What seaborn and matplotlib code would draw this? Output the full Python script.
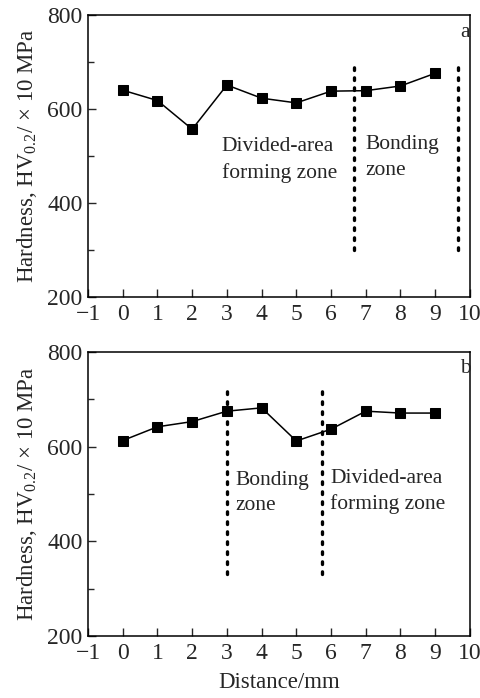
import numpy as np
import seaborn as sns
import matplotlib.pyplot as plt
import pandas as pd

# hardness profiles
distance = [0, 1, 2, 3, 4, 5, 6, 7, 8, 9]
hardness_a = [640, 618, 557, 651, 623, 613, 638, 639, 649, 676]
hardness_b = [613, 642, 653, 675, 682, 612, 637, 675, 671, 671]

# zone boundaries (dotted lines)
bounds_a = [6.65, 9.67]
bounds_b = [3.0, 5.73]

sns.set_style('ticks')
plt.rcParams['font.family'] = ['Liberation Serif', 'DejaVu Serif']
plt.rcParams['mathtext.fontset'] = 'custom'
plt.rcParams['mathtext.rm'] = 'Liberation Serif'
plt.rcParams['mathtext.it'] = 'Liberation Serif:italic'
plt.rcParams['axes.unicode_minus'] = True

fig = plt.figure(figsize=(4.81, 6.98), dpi=100)
ax1 = fig.add_axes([0.183, 0.5745, 0.794, 0.404])
ax2 = fig.add_axes([0.183, 0.0888, 0.794, 0.4069])

df_a = pd.DataFrame({'Distance': distance, 'Hardness': hardness_a})
df_b = pd.DataFrame({'Distance': distance, 'Hardness': hardness_b})

for ax, df, bounds, ylo, yhi in [(ax1, df_a, bounds_a, 300, 692),
                                  (ax2, df_b, bounds_b, 330, 717)]:
    sns.lineplot(data=df, x='Distance', y='Hardness', ax=ax, color='black',
                 marker='s', markersize=6.5, markeredgecolor='black',
                 linewidth=1.1)
    for b in bounds:
        ax.plot([b, b], [ylo, yhi], color='black', linestyle=(0, (0.8, 2.2)),
                linewidth=2.4, dash_capstyle='round')
    ax.set_xlim(-1, 10)
    ax.set_ylim(200, 800)
    ax.set_xticks(range(-1, 11))
    ax.set_xticklabels(['\u22121'] + [str(i) for i in range(0, 11)])
    ax.set_yticks([200, 400, 600, 800])
    ax.set_yticks([300, 500, 700], minor=True)
    ax.tick_params(axis='both', which='major', direction='in', length=6,
                   width=1, labelsize=17)
    ax.tick_params(axis='x', which='major', pad=5)
    ax.tick_params(axis='y', which='major', pad=4)
    ax.tick_params(axis='y', which='minor', direction='in', length=4, width=1)
    for s in ax.spines.values():
        s.set_linewidth(1.1)
        s.set_color('black')
    ax.set_ylabel(r'Hardness, HV$_{\rm 0.2}$/ $\times$ 10 MPa', fontsize=16.5,
                  labelpad=6)
    ax.set_xlabel('')

ax1.text(2.85, 520, 'Divided-area', fontsize=15.5, va='center')
ax1.text(2.85, 463, 'forming zone', fontsize=15.5, va='center')
ax1.text(6.98, 525, 'Bonding', fontsize=15.5, va='center')
ax1.text(6.98, 470, 'zone', fontsize=15.5, va='center')
ax1.text(9.72, 762, 'a', fontsize=15.5, va='center')

ax2.text(3.24, 528, 'Bonding', fontsize=15.5, va='center')
ax2.text(3.24, 475, 'zone', fontsize=15.5, va='center')
ax2.text(5.97, 533, 'Divided-area', fontsize=15.5, va='center')
ax2.text(5.97, 478, 'forming zone', fontsize=15.5, va='center')
ax2.text(9.72, 766, 'b', fontsize=15.5, va='center')

ax2.set_xlabel('Distance/mm', fontsize=16.5, labelpad=6)

fig.savefig('out.png', dpi=100)
